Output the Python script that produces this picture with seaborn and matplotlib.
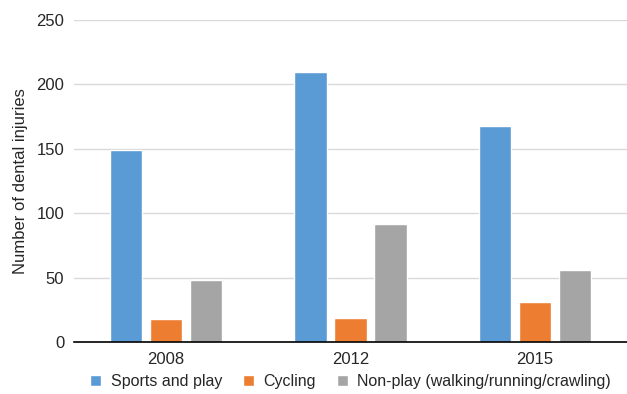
import pandas as pd
import matplotlib.pyplot as plt
import seaborn as sns

# Data
years = ["2008", "2012", "2015"]
sports = [149, 210, 168]
cycling = [18, 19, 31]
nonplay = [48, 92, 56]
series_names = ["Sports and play", "Cycling", "Non-play (walking/running/crawling)"]
colors = ["#5B9BD5", "#ED7D31", "#A5A5A5"]

df = pd.DataFrame({
    "year": years * 3,
    "count": sports + cycling + nonplay,
    "cause": [s for s in series_names for _ in years],
})

sns.set_style("white")
plt.rcParams["font.family"] = ["Liberation Sans", "DejaVu Sans"]

fig = plt.figure(figsize=(6.27, 3.94), dpi=100)
ax = fig.add_axes([0.118, 0.132, 0.882, 0.817])

sns.barplot(data=df, x="year", y="count", hue="cause", palette=colors,
            width=0.65, gap=0.19, saturation=1, ax=ax, zorder=2)

ax.set_xlim(-0.5, 2.5)
ax.set_ylim(0, 250)
ax.set_yticks(range(0, 251, 50))
ax.yaxis.grid(True, color="#D9D9D9", linewidth=1, zorder=0)
ax.set_axisbelow(True)
for side in ["top", "right", "left"]:
    ax.spines[side].set_visible(False)
ax.spines["bottom"].set_color("black")
ax.spines["bottom"].set_linewidth(1.2)
ax.tick_params(axis="both", length=0, labelsize=12, pad=7)
ax.set_xlabel("")
ax.set_ylabel("Number of dental injuries", fontsize=12, labelpad=6)

ax.legend(loc="center", bbox_to_anchor=(0.50, -0.124), ncol=3, frameon=False,
          fontsize=11.5, handlelength=0.7, handleheight=0.7, handletextpad=0.6,
          columnspacing=1.3, borderaxespad=0, borderpad=0)

fig.savefig("out.png", dpi=100)
